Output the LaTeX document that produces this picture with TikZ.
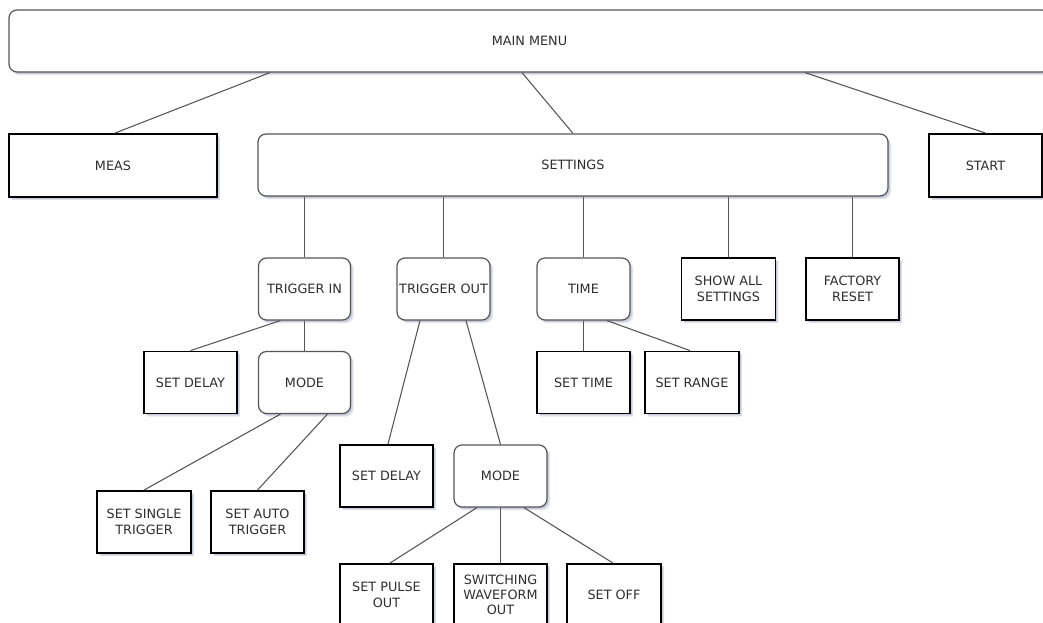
\documentclass[tikz,border=0pt]{standalone}
\usepackage{fontspec}
\setmainfont{DejaVu Sans}
\usetikzlibrary{calc,shadows}
\definecolor{txt}{HTML}{2E2E2E}
\definecolor{edge}{HTML}{555555}
\definecolor{shd}{HTML}{7A84A4}
\begin{document}
\begin{tikzpicture}[x=0.75pt,y=-0.75pt,
  boxshadow/.style={
    general shadow={shadow xshift=2.6pt,shadow yshift=-2.6pt,opacity=0.12,fill=shd},
    general shadow={shadow xshift=1.9pt,shadow yshift=-2.0pt,opacity=0.16,fill=shd},
    general shadow={shadow xshift=1.2pt,shadow yshift=-1.4pt,opacity=0.22,fill=shd}},
  base/.style={fill=white,text=txt,align=center,inner sep=0pt,
    font=\fontsize{9.6}{11.5}\selectfont,boxshadow},
  rbox/.style={base,draw=edge,line width=0.9pt,rounded corners=6pt},
  sbox/.style={base,draw=black,line width=1.4pt},
  dim/.style 2 args={minimum width=#1*0.75pt,minimum height=#2*0.75pt},
  conn/.style={draw=edge,line width=0.8pt}]
\useasboundingbox (0,0) rectangle (1043,623);
\clip (0,0) rectangle (1043,623);
% nodes
\node[rbox,dim={1041}{62}] (main) at (529.5,41) {MAIN MENU};
\node[sbox,dim={208}{63}] (meas) at (113,165.5) {MEAS};
\node[rbox,dim={630}{62}] (settings) at (573,165) {SETTINGS};
\node[sbox,dim={113}{63}] (start) at (985.5,165.5) {START};
\node[rbox,dim={92}{62}] (tin) at (304.5,289) {TRIGGER IN};
\node[rbox,dim={93}{62}] (tout) at (443.5,289) {TRIGGER OUT};
\node[rbox,dim={93}{62}] (time) at (583.5,289) {TIME};
\node[sbox,dim={94}{62}] (showall) at (728.5,289) {SHOW ALL\\SETTINGS};
\node[sbox,dim={93}{62}] (factory) at (852.5,289) {FACTORY\\RESET};
\node[sbox,dim={93}{62}] (sdelayA) at (190.5,382.5) {SET DELAY};
\node[rbox,dim={92}{62}] (modeA) at (304.5,382.5) {MODE};
\node[sbox,dim={93}{62}] (settime) at (583.5,382.5) {SET TIME};
\node[sbox,dim={94}{62}] (setrange) at (692,382.5) {SET RANGE};
\node[sbox,dim={94}{62}] (single) at (144,522) {SET SINGLE\\TRIGGER};
\node[sbox,dim={93}{62}] (auto) at (257.5,522) {SET AUTO\\TRIGGER};
\node[sbox,dim={93}{62}] (sdelayB) at (386.5,476) {SET DELAY};
\node[rbox,dim={93}{62}] (modeB) at (500.5,476) {MODE};
\node[sbox,dim={93}{62}] (pulse) at (386.5,595) {SET PULSE\\OUT};
\node[sbox,dim={93}{62}] (switch) at (500.5,595) {SWITCHING\\WAVEFORM\\OUT};
\node[sbox,dim={94}{62}] (setoff) at (614,595) {SET OFF};
% connectors
\draw[conn] ($(main.south)+(-259.5,0)$) -- ($(meas.north)+(2,0)$);
\draw[conn] ($(main.south)+(-7.5,0)$) -- (settings.north);
\draw[conn] ($(main.south)+(275.5,0)$) -- (start.north);
\draw[conn] (settings.south -| tin.north) -- (tin.north);
\draw[conn] (settings.south -| tout.north) -- (tout.north);
\draw[conn] (settings.south -| time.north) -- (time.north);
\draw[conn] (settings.south -| showall.north) -- (showall.north);
\draw[conn] (settings.south -| factory.north) -- (factory.north);
\draw[conn] ($(tin.south)+(-24,0)$) -- (sdelayA.north);
\draw[conn] (tin.south) -- (modeA.north);
\draw[conn] ($(modeA.south)+(-24,0)$) -- (single.north);
\draw[conn] ($(modeA.south)+(23,0)$) -- (auto.north);
\draw[conn] ($(tout.south)+(-23.5,0)$) -- ($(sdelayB.north)+(1.5,0)$);
\draw[conn] ($(tout.south)+(22.5,0)$) -- (modeB.north);
\draw[conn] ($(modeB.south)+(-23.5,0)$) -- ($(pulse.north)+(3.5,0)$);
\draw[conn] (modeB.south) -- (switch.north);
\draw[conn] ($(modeB.south)+(23.5,0)$) -- ($(setoff.north)+(-1,0)$);
\draw[conn] (time.south) -- (settime.north);
\draw[conn] ($(time.south)+(23.5,0)$) -- ($(setrange.north)+(-2,0)$);
\end{tikzpicture}
\end{document}
